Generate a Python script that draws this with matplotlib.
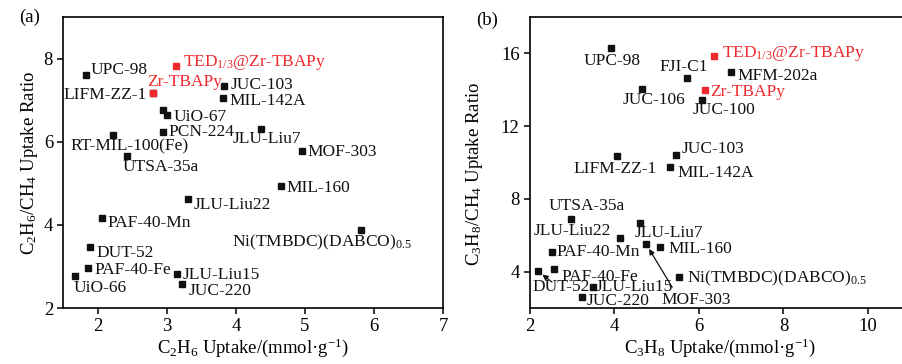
import matplotlib
matplotlib.use("Agg")
from matplotlib import pyplot as plt

plt.rcParams['font.family'] = ['Liberation Serif', 'DejaVu Serif']
plt.rcParams['mathtext.fontset'] = 'custom'
plt.rcParams['mathtext.rm'] = 'Liberation Serif'
plt.rcParams['mathtext.it'] = 'Liberation Serif:italic'

# panel (a): C2H6 uptake vs C2H6/CH4 ratio
names_a = ["UPC-98", "TED1/3@Zr-TBAPy", "LIFM-ZZ-1", "Zr-TBAPy", "JUC-103", "MIL-142A",
           "UiO-67", "UiO-67", "PCN-224", "RT-MIL-100(Fe)", "JLU-Liu7", "MOF-303",
           "UTSA-35a", "MIL-160", "JLU-Liu22", "PAF-40-Mn", "Ni(TMBDC)(DABCO)0.5",
           "DUT-52", "PAF-40-Fe", "UiO-66", "JLU-Liu15", "JUC-220"]
x_a = [1.83, 3.13, 2.80, 2.80, 3.83, 3.81, 2.94, 3.00, 2.94, 2.22, 4.36, 4.96,
       2.42, 4.65, 3.30, 2.06, 5.81, 1.88, 1.85, 1.67, 3.14, 3.22]
y_a = [7.61, 7.83, 7.18, 7.18, 7.33, 7.06, 6.77, 6.65, 6.24, 6.17, 6.31, 5.77,
       5.65, 4.94, 4.63, 4.17, 3.88, 3.47, 2.96, 2.77, 2.82, 2.58]

# panel (b): C3H8 uptake vs C3H8/CH4 ratio
names_b = ["UPC-98", "TED1/3@Zr-TBAPy", "MFM-202a", "FJI-C1", "Zr-TBAPy", "JUC-106",
           "JUC-100", "JUC-103", "LIFM-ZZ-1", "MIL-142A", "UTSA-35a", "JLU-Liu22",
           "JLU-Liu7", "PAF-40-Mn", "MOF-303", "MIL-160", "PAF-40-Fe", "DUT-52",
           "JLU-Liu15", "JUC-220", "Ni(TMBDC)(DABCO)0.5"]
x_b = [3.92, 6.36, 6.76, 5.72, 6.14, 4.65, 6.07, 5.46, 4.06, 5.31, 2.97, 4.13,
       4.60, 2.52, 4.75, 5.08, 2.57, 2.19, 3.49, 3.23, 5.53]
y_b = [16.30, 15.86, 14.99, 14.66, 14.00, 14.05, 13.45, 10.44, 10.38, 9.78, 6.88, 5.84,
       6.66, 5.07, 5.51, 5.34, 4.14, 4.03, 3.15, 2.60, 3.70]

this_work = ["TED1/3@Zr-TBAPy", "Zr-TBAPy"]

pretty = {
    "TED1/3@Zr-TBAPy": r"TED$_\mathrm{1/3}$@Zr-TBAPy",
    "Ni(TMBDC)(DABCO)0.5": r"Ni(TMBDC)(DABCO)$_\mathrm{0.5}$",
}

RED = '#ee2a2e'
BLACK = '#111111'

# label layout: (ha, dx, dy) in pixels from the marker, None = no label
labels_a = [("left", 4, 5), ("left", 7, 3), ("right", -6, -2), ("left", -6, 11),
            ("left", 6, 1), ("left", 7, -3), ("left", 11, -7), None, ("left", 6, 0),
            ("left", -43, -12), ("left", -28, -10), ("left", 5, -1), ("left", -4, -11),
            ("left", 6, -2), ("left", 6, -6), ("left", 5, -5), ("right", 51, -13),
            ("left", 7, -6), ("left", 7, -2), ("left", -2, -12), ("left", 6, -1),
            ("left", 6, -7)]
labels_b = [("left", -28, -13), ("left", 8, 2), ("left", 6, -4), ("left", -28, 11),
            ("left", 5, -2), ("left", -19, -11), ("left", -9, -10), ("left", 5, 6),
            ("left", -44, -13), ("left", 8, -6), ("left", -22, 13), ("right", -9, 7),
            ("left", -5, -10), ("left", 5, 0), ("left", 15, -56), ("left", 8, -2),
            ("left", 7, -8), ("left", -6, -16), ("left", 3, 0), ("left", 5, -4),
            ("left", 8, -1)]
# arrows: name -> (start dx, dy) pointing back to the marker
arrows_b = {"MOF-303": (26, -43), "DUT-52": (14, -11)}

fig = plt.figure(figsize=(9.03, 3.64), dpi=100)
ax1 = fig.add_axes([0.0703, 0.1538, 0.4203, 0.7995])
ax2 = fig.add_axes([0.5869, 0.1538, 0.4211, 0.7995])


def draw(ax, names, xs, ys, layout, arrows):
    for i, n in enumerate(names):
        c = RED if n in this_work else BLACK
        z = 4 if n in this_work else 3
        ax.plot(xs[i], ys[i], 's', color=c, markersize=4.6, zorder=z)
        if layout[i] is None:
            continue
        ha, dx, dy = layout[i]
        ax.annotate(pretty.get(n, n), (xs[i], ys[i]), xytext=(dx, dy),
                    textcoords='offset pixels', ha=ha, va='center',
                    fontsize=12.5, color=c, zorder=5)
        if n in arrows:
            ax.annotate('', (xs[i], ys[i]), xytext=arrows[n], textcoords='offset pixels',
                        arrowprops=dict(arrowstyle='-|>', color=BLACK, lw=0.9,
                                        mutation_scale=8, shrinkA=0, shrinkB=4))


draw(ax1, names_a, x_a, y_a, labels_a, {})
draw(ax2, names_b, x_b, y_b, labels_b, arrows_b)

ax1.set_xlim(1.5, 7)
ax1.set_ylim(2, 9)
ax1.set_xticks([2, 3, 4, 5, 6, 7])
ax1.set_yticks([2, 4, 6, 8])
ax1.set_xlabel(r"C$_\mathrm{2}$H$_\mathrm{6}$ Uptake/(mmol·g$^\mathrm{-1}$)", fontsize=13.5, labelpad=1)
ax1.set_ylabel(r"C$_\mathrm{2}$H$_\mathrm{6}$/CH$_\mathrm{4}$ Uptake Ratio", fontsize=13.5, labelpad=3)

ax2.set_xlim(2, 11)
ax2.set_ylim(2, 18)
ax2.set_xticks([2, 4, 6, 8, 10])
ax2.set_yticks([4, 8, 12, 16])
ax2.set_xlabel(r"C$_\mathrm{3}$H$_\mathrm{8}$ Uptake/(mmol·g$^\mathrm{-1}$)", fontsize=13.5, labelpad=1)
ax2.set_ylabel(r"C$_\mathrm{3}$H$_\mathrm{8}$/CH$_\mathrm{4}$ Uptake Ratio", fontsize=13.5, labelpad=3)
ax2.yaxis.set_label_coords(-0.118, 0.46)

for ax in (ax1, ax2):
    for s in ax.spines.values():
        s.set_linewidth(1.2)
    ax.tick_params(direction='out', length=4.5, width=1.1, labelsize=13.5, pad=3)

fig.text(0.033, 0.953, "(a)", fontsize=13.5, ha='center', va='center')
fig.text(0.539, 0.945, "(b)", fontsize=13.5, ha='center', va='center')

fig.savefig("out.png", dpi=100)
